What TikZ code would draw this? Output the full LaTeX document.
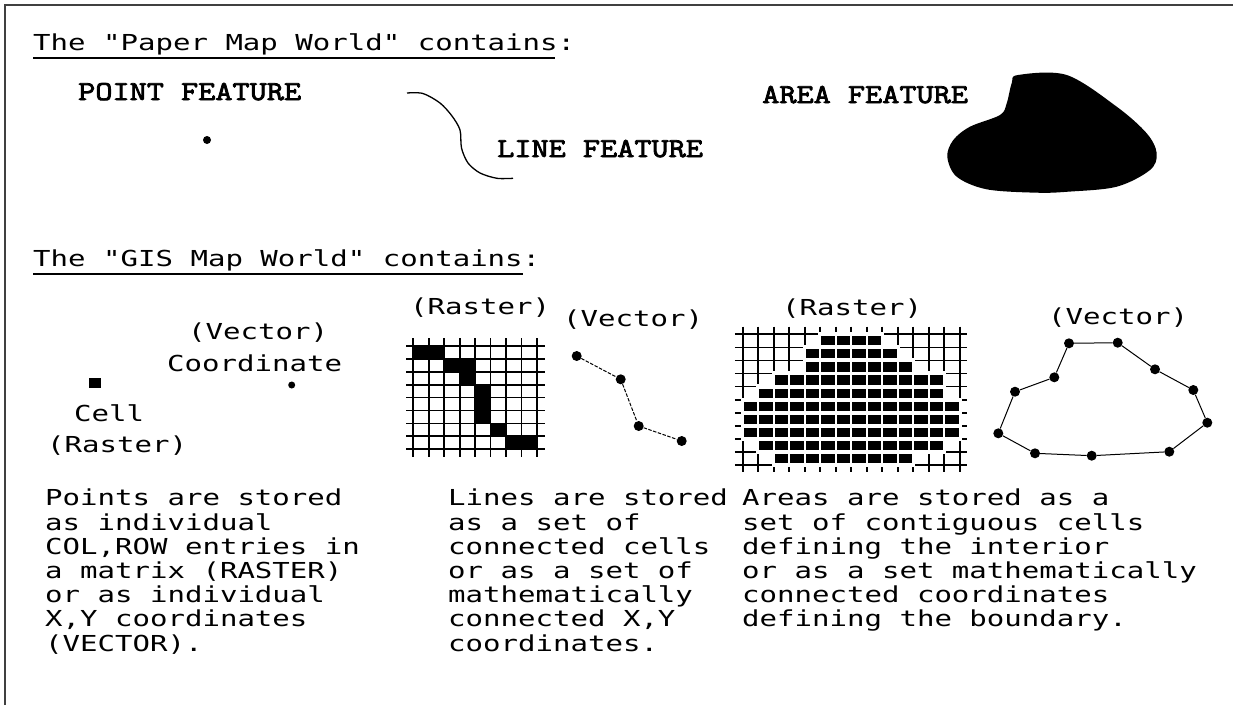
\documentclass[tikz,border=0pt]{standalone}
\usepackage{fontspec}
\usepackage{tikz}
\usetikzlibrary{positioning}
\newfontfamily\pixfont[FakeStretch=1.32]{DejaVu Sans Mono}
\newfontfamily\featfont[FakeStretch=1.22, FakeBold=3]{Latin Modern Mono}

\begin{document}
\begin{tikzpicture}[
    x=1pt, y=-1pt,
    txt/.style={font=\pixfont\fontsize{22}{24}\selectfont, inner sep=0pt, anchor=base west},
    feat/.style={font=\featfont\fontsize{27.3}{30}\selectfont, inner sep=0pt, anchor=base west},
    para/.style={font=\pixfont\fontsize{22}{24.2}\selectfont, inner sep=0pt, anchor=north west, align=left},
    gridline/.style={line width=1.7pt},
    vdot/.style={circle, fill, inner sep=0pt, minimum size=10pt},
    vline/.style={line width=1pt}
]
    \useasboundingbox (0,0) rectangle (1233,705);
    \draw[line width=1.5pt, black!75] (5,705) -- (5,5) -- (1233,5);

    % paper map world
    \node[txt] (head1) at (33,50) {The "Paper Map World" contains:};
    \draw[line width=2pt] ([yshift=-8pt]head1.base west) -- ++(522,0);
    \node[feat] (pointf) at (78,100) {POINT FEATURE};
    \node[circle, fill, inner sep=0pt, minimum size=8pt] (pfdot) at (207,140) {};
    \node[feat] (linef) at (497,157) {LINE FEATURE};
    \draw[line width=1.3pt] plot[smooth, tension=0.5] coordinates {(407,93) (423,93.5) (440,103) (452,116) (460,130) (461.5,148) (468,163) (480,173) (497,178.3) (513,178.3)};
    \node[feat] (areaf) at (762,103) {AREA FEATURE};
    \fill plot[smooth cycle, tension=0.55] coordinates {(1011.7,83.3) (1018,75) (1066.7,75) (1116.7,106.7) (1146.7,133.3) (1156.7,153.3) (1150,170) (1116.7,186.7) (1068,191.7) (1036.7,192.7) (986.7,189.3) (956.7,176.7) (947.3,156.7) (953.3,140) (970,126.7) (1000,115) (1006.7,103.3)};

    % gis map world
    \node[txt] (head2) at (33,266) {The "GIS Map World" contains:};
    \draw[line width=2pt] ([yshift=-8pt]head2.base west) -- ++(490,0);

    % points
    \node[txt] (vec1) at (188,339) {(Vector)};
    \node[txt] (crdname) at (167,371) {Coordinate};
    \node[fill, inner sep=0pt, minimum width=12pt, minimum height=10pt] (cellsq) at (94.5,383.3) {};
    \node[circle, fill, inner sep=0pt, minimum size=7pt] (crd) at (291.7,385) {};
    \node[txt] (cellname) at (74,421) {Cell};
    \node[txt] (ras1) at (47,452) {(Raster)};

    % lines
    \node[txt] (ras2) at (410,314) {(Raster)};
    \begin{scope}[shift={(413.3,346)}, x=15.46pt, y=-12.9pt]
        \foreach \c/\r in {0/0,1/0,2/1,3/1,3/2,4/3,4/4,4/5,5/6,6/7,7/7}
            \fill (\c,\r) rectangle ++(1,1);
        \foreach \i in {0,...,8} {
            \draw[gridline] (\i,-0.6) -- (\i,8.6);
            \draw[gridline] (-0.47,\i) -- (8.5,\i);
        }
    \end{scope}
    \node[txt] (vec2) at (563,326) {(Vector)};
    \node[vdot] (l1) at (576.7,356) {};
    \node[vdot] (l2) at (620.7,379.3) {};
    \node[vdot] (l3) at (638.7,426) {};
    \node[vdot] (l4) at (681.7,441) {};
    \draw[vline, dash pattern=on 3.5pt off 1.5pt] (l1) -- (l2) -- (l3) -- (l4);

    % areas
    \node[txt] (ras3) at (782,315) {(Raster)};
    \begin{scope}[shift={(742.7,334.3)}, x=15.5pt, y=-13.07pt]
        \foreach \i in {0,...,14}
            \draw[gridline] (\i,-0.58) -- (\i,10.52);
        \foreach \j in {0,...,10}
            \draw[gridline] (-0.5,\j) -- (14.47,\j);
        \foreach \r/\a/\b in {0/5/8,1/4/9,2/4/10,3/2/12,4/1/12,5/0/13,6/0/13,7/0/13,8/1/12,9/2/10}
            \foreach \c in {\a,...,\b}
                \fill[white] (\c-0.13,\r-0.16) rectangle (\c+1.13,\r+1.16);
        \foreach \r/\a/\b in {0/5/8,1/4/9,2/4/10,3/2/12,4/1/12,5/0/13,6/0/13,7/0/13,8/1/12,9/2/10}
            \foreach \c in {\a,...,\b}
                \fill (\c+0.07,\r+0.15) rectangle (\c+0.93,\r+0.85);
    \end{scope}
    \node[txt] (vec3) at (1048,324) {(Vector)};
    \node[vdot] (a1) at (1069,343.3) {};
    \node[vdot] (a2) at (1117.7,342.7) {};
    \node[vdot] (a3) at (1155,369.3) {};
    \node[vdot] (a4) at (1193.3,390) {};
    \node[vdot] (a5) at (1207.3,422.7) {};
    \node[vdot] (a6) at (1169.3,451.7) {};
    \node[vdot] (a7) at (1091.7,455.7) {};
    \node[vdot] (a8) at (1035,453.3) {};
    \node[vdot] (a9) at (998.3,433.3) {};
    \node[vdot] (a10) at (1015,391.7) {};
    \node[vdot] (a11) at (1054.3,377.3) {};
    \draw[vline] (a1) -- (a2) -- (a3) -- (a4) -- (a5) -- (a6) -- (a7) -- (a8) -- (a9) -- (a10) -- (a11) -- (a1);

    % descriptions
    \node[para] (ptext) at (45,489) {Points are stored\\as individual\\COL,ROW entries in\\a matrix (RASTER)\\or as individual\\X,Y coordinates\\(VECTOR).};
    \node[para] (ltext) at (448,489) {Lines are stored\\as a set of\\connected cells\\or as a set of\\mathematically\\connected X,Y\\coordinates.};
    \node[para] (atext) at (742,489) {Areas are stored as a\\set of contiguous cells\\defining the interior\\or as a set mathematically\\connected coordinates\\defining the boundary.};
\end{tikzpicture}
\end{document}
